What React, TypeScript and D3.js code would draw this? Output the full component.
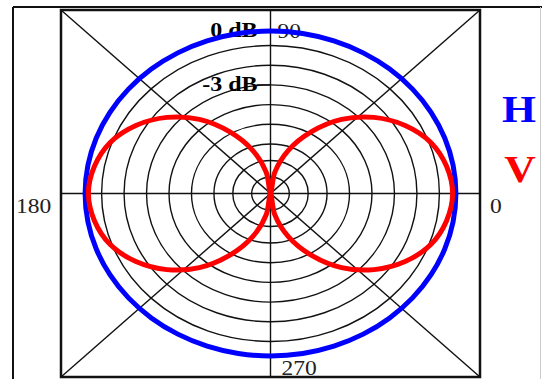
import React from "react";
import * as d3 from "d3";

// angles in degrees, 0 = right, counter-clockwise
const angles = [
  0, 10, 20, 30, 40, 50, 60, 70, 80, 90, 100, 110, 120, 130, 140, 150, 160, 170,
  180, 190, 200, 210, 220, 230, 240, 250, 260, 270, 280, 290, 300, 310, 320, 330, 340, 350,
];

// H polarisation (dB), flat
const hDb = [
  0, 0, 0, 0, 0, 0, 0, 0, 0, 0, 0, 0, 0, 0, 0, 0, 0, 0,
  0, 0, 0, 0, 0, 0, 0, 0, 0, 0, 0, 0, 0, 0, 0, 0, 0, 0,
];

// V polarisation (dB), figure eight
const vDb = [
  -0.2, -0.4, -0.9, -1.6, -2.5, -3.6, -4.9, -6.2, -7.7, -9, -7.7, -6.2, -4.9, -3.6, -2.5, -1.6, -0.9, -0.4,
  -0.2, -0.4, -0.9, -1.6, -2.5, -3.6, -4.9, -6.2, -7.7, -9, -7.7, -6.2, -4.9, -3.6, -2.5, -1.6, -0.9, -0.4,
];

const ringLevels = [0, -1, -2, -3, -4, -5, -6, -7, -8];
const dbLabels = [
  { db: 0, text: "0 dB" },
  { db: -3, text: "-3 dB" },
];
const angleLabels = ["0", "90", "180", "270"];

const W = 542;
const H = 379;
const box = { left: 61, right: 480, top: 10, bottom: 377 };
const outer = 0.885;

export default function App() {
  const xs = d3.scaleLinear().domain([-1, 1]).range([box.left, box.right]);
  const ys = d3.scaleLinear().domain([-1, 1]).range([box.bottom, box.top]);
  // radial dB scale (rings are not quite evenly spaced)
  const rs = d3.scaleLinear().domain([-9, -6, -1, 0]).range([0, 0.305, 0.911, 1]).clamp(true);

  const cx = xs(0);
  const cy = ys(0);

  const pt = (deg: number, db: number): [number, number] => {
    const a = (deg * Math.PI) / 180;
    const r = rs(db) * outer;
    return [xs(r * Math.cos(a)), ys(r * Math.sin(a))];
  };

  const line = d3.line().curve(d3.curveCatmullRomClosed.alpha(0.5));
  const hPath = line(angles.map((a, i) => pt(a, hDb[i]))) || "";
  const vPath = line(angles.map((a, i) => pt(a, vDb[i]))) || "";

  const rx = (db: number) => xs(rs(db) * outer) - cx;
  const ry = (db: number) => cy - ys(rs(db) * outer);

  const serif = "'Liberation Serif', 'Times New Roman', serif";
  const lab = (x: number, y: number, k = 1.12) => `translate(${x},${y}) scale(${k},1)`;

  const anglePos = [
    { x: box.right + 10, y: cy + 19 },
    { x: cx + 7, y: box.top + 28 },
    { x: box.left - 45, y: cy + 19 },
    { x: cx + 11, y: box.bottom - 2 },
  ];

  return (
    <svg
      width={W}
      height={H}
      style={{ position: "absolute", left: 0, top: 0, background: "#fff" }}
    >
      {/* outer frame */}
      <line x1={13} y1={7} x2={W} y2={7} stroke="#111" strokeWidth={2} />
      <line x1={13} y1={7} x2={13} y2={H} stroke="#111" strokeWidth={2} />
      <line x1={540.5} y1={7} x2={540.5} y2={H} stroke="#ccc" strokeWidth={1} />

      {/* rings */}
      <g fill="none" stroke="#111" strokeWidth={1.4}>
        {ringLevels.map((db) => (
          <ellipse key={db} cx={cx} cy={cy} rx={rx(db)} ry={ry(db)} />
        ))}
      </g>

      {/* axes and diagonals */}
      <g stroke="#111" strokeWidth={1.4}>
        <line x1={box.left} y1={cy} x2={box.right} y2={cy} />
        <line x1={cx} y1={box.top} x2={cx} y2={box.bottom} />
        <line x1={box.left} y1={box.top} x2={box.right} y2={box.bottom} />
        <line x1={box.left} y1={box.bottom} x2={box.right} y2={box.top} />
      </g>
      <rect
        x={box.left}
        y={box.top}
        width={box.right - box.left}
        height={box.bottom - box.top}
        fill="none"
        stroke="#111"
        strokeWidth={2.5}
      />

      {/* dB labels */}
      {dbLabels.map((d) => {
        const y = cy - ry(d.db);
        return (
          <g key={d.text}>
            <line x1={cx - 14} y1={y} x2={cx} y2={y} stroke="#111" strokeWidth={1.5} />
            <text
              transform={lab(cx - 13, y + 6, 1.2)}
              textAnchor="end"
              fontFamily={serif}
              fontWeight="bold"
              fontSize={20}
              fill="#000"
            >
              {d.text}
            </text>
          </g>
        );
      })}

      {/* angle labels */}
      {angleLabels.map((t, i) => (
        <text
          key={t}
          transform={lab(anglePos[i].x, anglePos[i].y)}
          textAnchor="start"
          fontFamily={serif}
          fontSize={21}
          fill="#222"
        >
          {t}
        </text>
      ))}

      {/* patterns */}
      <path d={hPath} fill="none" stroke="#0000ff" strokeWidth={5} />
      <path d={vPath} fill="none" stroke="#ff0000" strokeWidth={5} />

      {/* legend */}
      <text
        transform={lab(519, 122)}
        textAnchor="middle"
        fontFamily={serif}
        fontWeight="bold"
        fontSize={39}
        fill="#0000ff"
      >
        H
      </text>
      <text
        transform={lab(520, 182)}
        textAnchor="middle"
        fontFamily={serif}
        fontWeight="bold"
        fontSize={39}
        fill="#ff0000"
      >
        V
      </text>
    </svg>
  );
}
